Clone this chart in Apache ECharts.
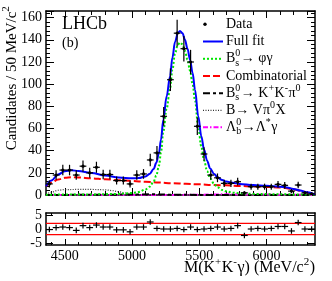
<!DOCTYPE html>
<html><head><meta charset="utf-8">
<script src="https://cdn.jsdelivr.net/npm/echarts@6/dist/echarts.min.js"></script>
<style>html,body{margin:0;padding:0;background:#fff}#c{width:332px;height:281px}</style>
</head><body><div id="c"></div>
<script>
// ---- data ----
const binCenters = [4385,4435,4485,4535,4585,4635,4685,4735,4785,4835,4885,4935,4985,5035,5085,5135,5185,5235,5285,5335,5385,5435,5485,5535,5585,5635,5685,5735,5785,5835,5885,5935,5985,6035,6085,6135,6185,6235,6285,6335];
const counts = [10,18,22.5,22.5,18,26,20,25,18.5,18.5,13,13,10,18,19,31.6,38,71,104,146,132,120,62,37,18,15.5,10.5,10.5,12,2,7.5,7.5,7.5,7.5,9.6,8.7,3.5,9,2,1];
const pulls = [-0.2,0.5,0.7,0.5,-0.5,1.2,0.5,1.4,0.7,0.7,-0.3,-0.3,-1.0,0.7,0.7,2.5,0.2,0,0,0.2,-0.2,0.7,-0.2,0,0.2,0.7,0,0.2,1.2,-2.3,0,0.2,0,0.2,0.9,0.9,-0.7,2.3,0,0];
const fullFit = [[4360,8],[4400,13],[4450,18.5],[4500,21.5],[4550,22.3],[4600,21.7],[4700,19.8],[4800,17.5],[4900,15.8],[5000,15],[5050,15.3],[5100,16.8],[5130,19],[5160,23.5],[5180,29],[5200,38],[5215,50],[5232,68],[5257,89],[5282,107],[5300,124],[5319,138],[5340,146],[5356,148],[5375,146],[5393,140],[5412,132],[5431,122],[5450,110],[5468,95],[5492,71],[5515,53],[5535,41],[5558,31],[5580,24],[5610,19],[5635,16],[5670,13.5],[5700,12.2],[5750,11],[5800,10],[5900,9],[6000,8.3],[6100,7.5],[6150,6.8],[6200,5.5],[6250,4],[6300,2.4],[6360,0.5]];
const bsPhiGamma = [[4360,0.3],[4700,0.5],[4900,1],[5000,1.8],[5050,2.8],[5100,5],[5130,7.5],[5160,12],[5180,17.5],[5200,26.5],[5215,38.5],[5232,57],[5257,78],[5282,96],[5300,113],[5319,127.5],[5340,135.5],[5356,137.5],[5375,136],[5393,130],[5412,122],[5431,112],[5450,100],[5468,85],[5492,61],[5515,43.5],[5535,31.5],[5558,21.5],[5580,15],[5610,10],[5635,7],[5670,4.5],[5700,3.3],[5750,2],[5800,1.5],[5900,1],[6100,0.6],[6360,0.4]];
const combinatorial = [[4360,8],[4400,11],[4450,14],[4500,15.5],[4550,16],[4600,15.8],[4700,15],[4800,14.2],[4900,13.4],[5000,12.6],[5100,11.9],[5200,11.2],[5300,10.6],[5400,10.1],[5500,9.6],[5600,9.1],[5700,8.7],[5800,8.2],[5900,7.8],[6000,7.3],[6100,6.7],[6150,6.2],[6200,5.2],[6250,3.9],[6300,2.3],[6360,0.4]];
const bsKKpi0 = [[4360,0],[4800,0.2],[5000,0.5],[5150,0.6],[5300,0.3],[5500,0.05],[6360,0]];
const bVpi0X = [[4360,0.5],[4400,2.5],[4450,4.3],[4500,4.9],[4600,5],[4700,5],[4800,4.7],[4850,4],[4900,3],[4950,1.8],[5000,0.9],[5050,0.3],[5150,0]];
const lbLstarGamma = [[4360,0],[5300,0],[5500,0.3],[5700,0.6],[5900,0.5],[6100,0.3],[6360,0.1]];
const pullBands = [2, -2];
const pullTickLabels = [5, 0, -5];
const xMajorTicks = [4500,5000,5500,6000];
const xMinorTicks = [4400,4600,4700,4800,4900,5100,5200,5300,5400,5600,5700,5800,5900,6100,6200,6300];

// ---- layout ----
const FONT = '"Liberation Serif", "Times New Roman", serif';
const X0 = 4360, X1 = 6360, PULL = 5.7;
const chart = echarts.init(document.getElementById('c'), null, {renderer:'canvas'});
const cv = document.createElement('canvas').getContext('2d');
function tw(t, s){ cv.font = s + 'px ' + FONT; return cv.measureText(t).width; }
function txt(t, x, y, s){
  return {type:'text', x:x, y:y, style:{text:t, font: s+'px '+FONT, fill:'#000', align:'left', verticalAlign:'middle', textAlign:'left', textVerticalAlign:'middle'}};
}
function label(parts, x, y, size, align, rotation){
  const ch = []; let cx = 0; const ss = Math.round(size*0.7);
  parts.forEach(p => {
    if (typeof p === 'string'){ ch.push(txt(p, cx, 0, size)); cx += tw(p, size); }
    else {
      let w = 0;
      if (p.sup !== undefined){ ch.push(txt(p.sup, cx, -size*0.36, ss)); w = Math.max(w, tw(p.sup, ss)); }
      if (p.sub !== undefined){ ch.push(txt(p.sub, cx, size*0.3, ss)); w = Math.max(w, tw(p.sub, ss)); }
      cx += w + 0.5;
    }
  });
  const off = align === 'right' ? -cx : (align === 'center' ? -cx/2 : 0);
  ch.forEach(c => { c.x += off; });
  return {type:'group', x:x, y:y, rotation: rotation || 0, children: ch};
}
function lineSym(x1, x2, y, color, w, dash){
  return {type:'line', shape:{x1:x1, y1:y, x2:x2, y2:y}, style:{stroke:color, lineWidth:w, lineDash:dash || null}};
}

const legendX = 226, ls1 = 203, ls2 = 223;
const rows = [24.2, 41.5, 58.8, 76, 93.2, 110.3, 127.3];
const graphics = [
  label(['LHCb'], 62, 24, 18, 'left'),
  label(['(b)'], 62, 43, 14, 'left'),
  {type:'circle', shape:{cx:205, cy:rows[0], r:1.7}, style:{fill:'#000'}},
  label(['Data'], legendX, rows[0], 14),
  lineSym(ls1, ls2, rows[1], '#0000ff', 2),
  label(['Full fit'], legendX, rows[1], 14),
  lineSym(ls1, ls2, rows[2], '#00e600', 2, [2,2]),
  label(['B', {sup:'0', sub:'s'}, '→ φγ'], legendX, rows[2], 14),
  lineSym(ls1, ls2, rows[3], '#ff0000', 2, [7,3]),
  label(['Combinatorial'], legendX, rows[3], 14),
  lineSym(ls1, ls2, rows[4], '#000000', 2, [7,3,3,3]),
  label(['B', {sup:'0', sub:'s'}, '→ K', {sup:'+'}, 'K', {sup:'-'}, 'π', {sup:'0'}], legendX, rows[4], 14),
  lineSym(ls1, ls2, rows[5], '#333333', 1.2, [1,1.5]),
  label(['B→ Vπ', {sup:'0'}, 'X'], legendX, rows[5], 14),
  lineSym(ls1, ls2, rows[6], '#ff00ff', 2, [5,2,1.5,2]),
  label(['Λ', {sup:'0', sub:'b'}, '→Λ', {sup:'*'}, 'γ'], legendX, rows[6], 14),
  label(['Candidates / 50 MeV/', 'c', {sup:'2'}], 12, 78, 15, 'center', Math.PI/2),
  label(['M(K', {sup:'+'}, 'K', {sup:'-'}, 'γ) (MeV/', 'c', {sup:'2'}, ')'], 315, 268, 16, 'right')
];

const axLine = {show:true, onZero:false, lineStyle:{color:'#000', width:1.5}};
const noLine = {show:false, onZero:false};
const plain = v => String(v);
function xAx(grid, pos, ticks, len, labels){
  return {type:'value', gridIndex:grid, position:pos, min:X0, max:X1,
    axisLine: len > 5 ? axLine : noLine,
    axisTick:{show:true, inside:true, length:len, customValues:ticks, lineStyle:{color:'#000', width:1}},
    axisLabel: labels ? {show:true, customValues:xMajorTicks, formatter:plain, margin:4, color:'#000', fontSize:14, fontFamily:FONT} : {show:false},
    splitLine:{show:false}};
}
function yMain(pos, labels){
  return {type:'value', gridIndex:0, position:pos, min:0, max:166, interval:20,
    axisLine: axLine,
    axisTick:{show:true, inside:true, length:8, lineStyle:{color:'#000', width:1}},
    minorTick:{show:true, splitNumber:5, length:4, lineStyle:{color:'#000', width:1}},
    axisLabel: labels ? {show:true, margin:4, color:'#000', fontSize:14, fontFamily:FONT, showMaxLabel:false, formatter:plain} : {show:false},
    splitLine:{show:false}};
}
function yPull(pos){
  return {type:'value', gridIndex:1, position:pos, min:-PULL, max:PULL,
    axisLine: axLine,
    axisTick:{show:true, inside:true, length:7, customValues:pullTickLabels, lineStyle:{color:'#000', width:1}},
    axisLabel:{show:false}, splitLine:{show:false}};
}
function curve(name, data, color, width, dash, z){
  return {name:name, type:'line', xAxisIndex:0, yAxisIndex:0, data:data, smooth:0.35, smoothMonotone:'x',
    showSymbol:false, symbol:'none', z:z, clip:true,
    lineStyle:{color:color, width:width, type: dash || 'solid'}};
}

const option = {
  animation:false,
  backgroundColor:'#fff',
  grid:[
    {left:46, top:11, width:269, height:184, containLabel:false},
    {left:46, top:213, width:269, height:32, containLabel:false}
  ],
  xAxis:[
    xAx(0,'bottom',xMajorTicks,7,false), xAx(0,'bottom',xMinorTicks,4,false),
    xAx(0,'top',xMajorTicks,7,false), xAx(0,'top',xMinorTicks,4,false),
    xAx(1,'bottom',xMajorTicks,6,true), xAx(1,'bottom',xMinorTicks,3,false),
    xAx(1,'top',xMajorTicks,6,false), xAx(1,'top',xMinorTicks,3,false)
  ],
  yAxis:[ yMain('left',true), yMain('right',false), yPull('left'), yPull('right') ],
  series:[
    curve('Λb→Λ*γ', lbLstarGamma, '#ff00ff', 2, [5,2,1.5,2], 2),
    curve('B→Vπ0X', bVpi0X, '#333333', 1.2, [1,1.5], 2),
    curve('Bs→KKπ0', bsKKpi0, '#000000', 2, [7,3,3,3], 2),
    curve('Combinatorial', combinatorial, '#ff0000', 2, [7,3], 3),
    curve('Bs→φγ', bsPhiGamma, '#00e600', 2, [2,2], 3),
    curve('Full fit', fullFit, '#0000ff', 2, null, 4),
    {name:'Data', type:'custom', xAxisIndex:0, yAxisIndex:0, z:6, clip:true,
      data: binCenters.map((m,i)=>[m, counts[i]]),
      encode:{x:0, y:1},
      renderItem:function(params, api){
        const m = api.value(0), v = api.value(1), e = Math.sqrt(v);
        const c = api.coord([m, v]);
        const t = api.coord([m, v+e]), b = api.coord([m, Math.max(v-e,0)]);
        const l = api.coord([m-25, v]), r = api.coord([m+25, v]);
        const st = {stroke:'#000', lineWidth:1.2};
        return {type:'group', children:[
          {type:'line', shape:{x1:c[0], y1:t[1], x2:c[0], y2:b[1]}, style:st},
          {type:'line', shape:{x1:l[0], y1:c[1], x2:r[0], y2:c[1]}, style:st},
          {type:'circle', shape:{cx:c[0], cy:c[1], r:1.6}, style:{fill:'#000'}}
        ]};
      }},
    {name:'Bands', type:'custom', xAxisIndex:4, yAxisIndex:2, z:3, clip:true,
      data: pullBands.map(v=>[X0, v]),
      encode:{x:0, y:1},
      renderItem:function(params, api){
        const a = api.coord([X0, api.value(1)]), b = api.coord([X1, api.value(1)]);
        return {type:'line', shape:{x1:a[0], y1:a[1], x2:b[0], y2:b[1]}, style:{stroke:'#ff0000', lineWidth:1.3}};
      }},
    {name:'Pulls', type:'custom', xAxisIndex:4, yAxisIndex:2, z:6, clip:true,
      data: binCenters.map((m,i)=>[m, pulls[i]]),
      encode:{x:0, y:1},
      renderItem:function(params, api){
        const m = api.value(0), v = api.value(1);
        const c = api.coord([m, v]);
        const t = api.coord([m, v+1]), b = api.coord([m, v-1]);
        const l = api.coord([m-25, v]), r = api.coord([m+25, v]);
        const st = {stroke:'#000', lineWidth:1.2};
        return {type:'group', children:[
          {type:'line', shape:{x1:c[0], y1:t[1], x2:c[0], y2:b[1]}, style:st},
          {type:'line', shape:{x1:l[0], y1:c[1], x2:r[0], y2:c[1]}, style:st}
        ]};
      }}
  ],
  graphic: graphics
};
chart.setOption(option);
// pull-axis tick labels placed through the library's own scale
const pullLabelGraphics = pullTickLabels.map(v => {
  const py = chart.convertToPixel({yAxisIndex:2}, v);
  return label([String(v)], 42, py, 14, 'right');
});
chart.setOption({graphic: graphics.concat(pullLabelGraphics)}, {replaceMerge:['graphic']});
</script></body></html>
